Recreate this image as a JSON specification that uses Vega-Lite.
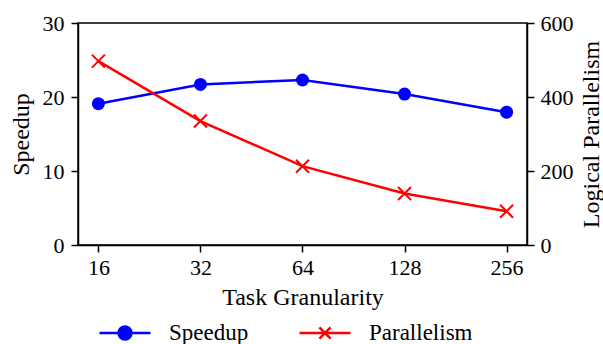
{
  "$schema": "https://vega.github.io/schema/vega-lite/v6.json",
  "autosize": {"type": "none"},
  "padding": {"left": 78, "top": 23, "right": 76, "bottom": 99},
  "width": 449,
  "height": 222,
  "background": "white",
  "config": {
    "font": "Liberation Serif",
    "view": {"stroke": "black", "strokeWidth": 1.5},
    "axis": {
      "labelFont": "Liberation Serif",
      "titleFont": "Liberation Serif",
      "labelFontSize": 22,
      "titleFontSize": 24,
      "titleFontWeight": "normal",
      "labelColor": "black",
      "titleColor": "black",
      "domainColor": "black",
      "tickColor": "black",
      "domainWidth": 1.5,
      "tickWidth": 1.5,
      "tickSize": 7,
      "grid": false
    },
    "legend": {
      "labelFont": "Liberation Serif",
      "labelFontSize": 23,
      "labelColor": "black"
    }
  },
  "data": {
    "values": [
      {"granularity": 16, "series": "Speedup", "value": 19.1},
      {"granularity": 32, "series": "Speedup", "value": 21.7},
      {"granularity": 64, "series": "Speedup", "value": 22.3},
      {"granularity": 128, "series": "Speedup", "value": 20.4},
      {"granularity": 256, "series": "Speedup", "value": 17.95},
      {"granularity": 16, "series": "Parallelism", "value": 497},
      {"granularity": 32, "series": "Parallelism", "value": 335},
      {"granularity": 64, "series": "Parallelism", "value": 213},
      {"granularity": 128, "series": "Parallelism", "value": 139},
      {"granularity": 256, "series": "Parallelism", "value": 91}
    ]
  },
  "encoding": {
    "x": {
      "field": "granularity",
      "type": "quantitative",
      "scale": {"type": "log", "base": 2, "domain": [13.93, 294.07], "nice": false},
      "axis": {"values": [16, 32, 64, 128, 256], "format": "d", "title": "Task Granularity", "labelPadding": 5, "titlePadding": 7}
    }
  },
  "layer": [
    {
      "transform": [{"filter": "datum.series === 'Speedup'"}],
      "encoding": {
        "y": {
          "field": "value",
          "type": "quantitative",
          "scale": {"domain": [0, 30], "nice": false},
          "axis": {"values": [0, 10, 20, 30], "title": "Speedup", "orient": "left", "labelPadding": 7, "titlePadding": 9}
        }
      },
      "layer": [
        {"mark": {"type": "line", "color": "#0000ff", "strokeWidth": 2.5}},
        {"mark": {"type": "point", "shape": "circle", "filled": true, "color": "#0000ff", "size": 169, "opacity": 1}}
      ]
    },
    {
      "transform": [{"filter": "datum.series === 'Parallelism'"}],
      "encoding": {
        "y": {
          "field": "value",
          "type": "quantitative",
          "scale": {"domain": [0, 600], "nice": false},
          "axis": {"values": [0, 200, 400, 600], "title": "Logical Parallelism", "orient": "right", "labelPadding": 6, "titlePadding": 6, "titleAngle": 270, "titleBaseline": "top"}
        }
      },
      "layer": [
        {"mark": {"type": "line", "color": "#ff0000", "strokeWidth": 2.5}},
        {"mark": {"type": "point", "shape": "M-1,-1L1,1M-1,1L1,-1", "filled": false, "color": "#ff0000", "size": 169, "strokeWidth": 2, "opacity": 1}}
      ]
    },
    {
      "mark": {"type": "point", "filled": true, "opacity": 0},
      "encoding": {
        "fill": {
          "field": "series",
          "type": "nominal",
          "scale": {"domain": ["Speedup", "Parallelism"], "range": ["#0000ff", "#ff0000"]},
          "legend": {
            "orient": "none",
            "legendX": 20,
            "legendY": 283,
            "direction": "horizontal",
            "title": null,
            "symbolSize": 2601,
            "symbolStrokeWidth": 2.5,
            "symbolOpacity": 1,
            "labelOffset": 17,
            "columnPadding": 45,
            "encode": {
              "symbols": {
                "update": {
                  "fill": {"scale": "fill", "field": "value"},
                  "fillOpacity": {"value": 1},
                  "opacity": {"value": 1}
                }
              }
            }
          }
        },
        "stroke": {
          "field": "series",
          "type": "nominal",
          "scale": {"domain": ["Speedup", "Parallelism"], "range": ["#0000ff", "#ff0000"]}
        },
        "shape": {
          "field": "series",
          "type": "nominal",
          "scale": {
            "domain": ["Speedup", "Parallelism"],
            "range": [
              "M-1,0H-0.255A0.255,0.255 0 1,1 0.255,0A0.255,0.255 0 1,1 -0.255,0M0.255,0H1",
              "M-1,0H1M-0.22,-0.22L0.22,0.22M-0.22,0.22L0.22,-0.22"
            ]
          }
        }
      }
    }
  ],
  "resolve": {"scale": {"y": "independent"}}
}
